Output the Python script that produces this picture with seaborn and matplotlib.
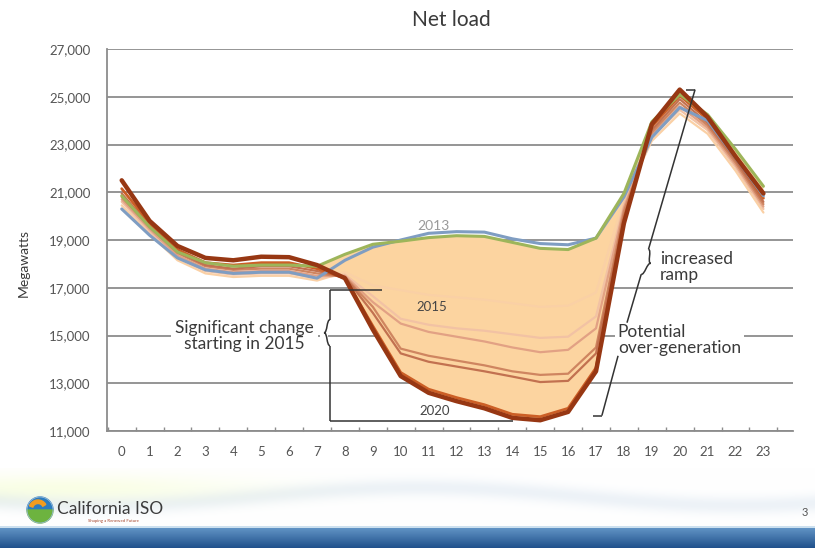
import numpy as np
import matplotlib
matplotlib.use("Agg")
import matplotlib.pyplot as plt
import matplotlib.transforms as mtransforms
from matplotlib.path import Path
from matplotlib.patches import Circle, Wedge, PathPatch
import seaborn as sns

# ---- data: hourly net load (MW) for a typical spring day ----
HOURS = list(range(24))
YEAR_LABELS = ["2012", "2013", "2014", "2015", "2016", "2017", "2018", "2019", "2020"]
Y_TICKS = [11000, 13000, 15000, 17000, 19000, 21000, 23000, 25000, 27000]

LOAD_2012 = [20300, 19200, 18250, 17750, 17600, 17650, 17650, 17400, 18150, 18700, 19000, 19280,
             19350, 19330, 19050, 18850, 18800, 19080, 20800, 23300, 24550, 24000, 22450, 20850]
LOAD_2013 = [20850, 19550, 18500, 18050, 17900, 17950, 17950, 17900, 18400, 18820, 18950, 19100,
             19180, 19150, 18900, 18650, 18600, 19080, 20950, 23950, 25100, 24250, 22800, 21250]
LOAD_2014 = [20450, 19250, 18150, 17600, 17450, 17500, 17500, 17300, 17650, 17100, 16900, 16700,
             16600, 16500, 16350, 16200, 16250, 16800, 20700, 23150, 24300, 23450, 21900, 20150]
LOAD_2015 = [20600, 19350, 18250, 17700, 17550, 17600, 17600, 17400, 17550, 16650, 15700, 15450,
             15300, 15200, 15050, 14900, 14950, 15800, 20500, 23300, 24450, 23600, 22050, 20300]
LOAD_2016 = [20700, 19450, 18350, 17800, 17650, 17700, 17700, 17500, 17500, 16400, 15500, 15150,
             14950, 14750, 14500, 14300, 14400, 15300, 20350, 23400, 24600, 23700, 22150, 20400]
LOAD_2017 = [20800, 19550, 18450, 17900, 17750, 17800, 17800, 17600, 17450, 16200, 14450, 14150,
             13950, 13750, 13500, 13350, 13400, 14500, 20200, 23500, 24750, 23800, 22250, 20500]
LOAD_2018 = [20950, 19600, 18500, 17950, 17800, 17900, 17900, 17700, 17450, 15950, 14250, 13900,
             13700, 13500, 13280, 13050, 13100, 14250, 20000, 23600, 24900, 23900, 22350, 20600]
LOAD_2019 = [21150, 19700, 18600, 18050, 17950, 18050, 18050, 17800, 17400, 15400, 13450, 12750,
             12400, 12100, 11700, 11600, 11950, 13650, 19850, 23750, 25050, 24050, 22450, 20750]
LOAD_2020 = [21500, 19800, 18750, 18250, 18150, 18300, 18280, 17950, 17400, 15250, 13300, 12600,
             12250, 11950, 11550, 11450, 11800, 13500, 19700, 23850, 25300, 24150, 22500, 20950]

SERIES = dict(zip(YEAR_LABELS, [LOAD_2012, LOAD_2013, LOAD_2014, LOAD_2015, LOAD_2016,
                                LOAD_2017, LOAD_2018, LOAD_2019, LOAD_2020]))

# ---- styling: colour, line width, z-order ----
STYLE = {
    "2012": ("#7f9dc2", 2.2, 4.2),
    "2013": ("#9db55a", 2.2, 4.3),
    "2014": ("#fad0a5", 1.6, 3.0),
    "2015": ("#f2c2a4", 1.6, 3.1),
    "2016": ("#e2a184", 1.6, 3.2),
    "2017": ("#cf8560", 1.6, 3.3),
    "2018": ("#c27150", 1.6, 3.4),
    "2019": ("#cc5f26", 2.0, 3.5),
    "2020": ("#973713", 3.2, 4.5),
}
FILL = "#fcd4a0"
GRID = "#8c8c8c"
TEXT = "#3a3a3a"
INK = "#333333"

sns.set_theme(style="white")
plt.rcParams["font.family"] = ["Lato", "DejaVu Sans"]

fig = plt.figure(figsize=(8.15, 5.48), dpi=100)
W, H = 815, 548
ax = fig.add_axes([107 / W, 1 - 431 / H, (793 - 107) / W, (431 - 49) / H])

# shaded band between the 2013 and 2020 curves
lo = np.array(SERIES["2020"])
hi = np.array(SERIES["2013"])
ax.fill_between(HOURS, lo, hi, where=lo <= hi, interpolate=True,
                color=FILL, lw=0, zorder=1.5)

for yr in YEAR_LABELS:
    col, lw, z = STYLE[yr]
    sns.lineplot(x=HOURS, y=SERIES[yr], ax=ax, color=col, lw=lw, zorder=z,
                 legend=False, solid_capstyle="round", solid_joinstyle="round")

ax.set_xlim(-0.527, 24.06)
ax.set_ylim(Y_TICKS[0], Y_TICKS[-1])
ax.set_yticks(Y_TICKS)
ax.set_yticklabels([f"{v:,}" for v in Y_TICKS])
ax.set_xticks(HOURS)
ax.set_xticklabels([str(h) for h in HOURS])
ax.set_xticks([h + 0.5 for h in HOURS[:-1]] + [-0.5, 23.5], minor=True)

ax.yaxis.grid(True, color=GRID, lw=1.3, zorder=0)
ax.set_axisbelow(True)
for s in ("top", "right"):
    ax.spines[s].set_visible(False)
for s in ("left", "bottom"):
    ax.spines[s].set_color(GRID)
    ax.spines[s].set_linewidth(1.3)

ax.tick_params(axis="y", which="major", length=4, width=1.2, color=GRID,
               direction="out", labelsize=9.5, labelcolor="#555555", pad=8)
ax.tick_params(axis="x", which="major", length=0, labelsize=9.5,
               labelcolor="#555555", pad=11)
ax.tick_params(axis="x", which="minor", length=3, width=1.0, color=GRID,
               direction="in", bottom=True)

ax.set_ylabel("Megawatts", fontsize=10, color=TEXT)
ax.yaxis.set_label_coords(-0.112, 0.44)

fig.text(451 / W, 1 - 20 / H, "Net load", ha="center", va="center",
         fontsize=15, color=TEXT)


def curly_brace(axis, x, y, height, width, angle=0.0, tip="left"):
    """Curly brace whose two ends sit on the point (x, y); sizes in pixels."""
    verts = [(0, 1), (-0.6, 1), (-0.4, 0), (-1, 0),
             (-0.4, 0), (-0.6, -1), (0, -1)]
    codes = [Path.MOVETO, Path.CURVE4, Path.CURVE4, Path.CURVE4,
             Path.CURVE4, Path.CURVE4, Path.CURVE4]
    sx = width if tip == "left" else -width
    px, py = axis.transData.transform((x, y))
    tr = (mtransforms.Affine2D().scale(sx, height / 2.0)
          .rotate_deg(angle).translate(px, py))
    patch = PathPatch(Path(verts, codes), transform=tr, fill=False,
                      ec=INK, lw=1.1, zorder=7)
    axis.add_artist(patch)


bracket = dict(color=INK, lw=1.1, zorder=6, solid_capstyle="butt")

# ---- annotations ----
ax.text(11.19, 19600, "2013", ha="center", va="center", fontsize=10,
        color="#9a9a9a", zorder=7)
ax.text(11.12, 16200, "2015", ha="center", va="center", fontsize=9.5,
        color="#454545", zorder=7)
ax.text(11.2, 11850, "2020", ha="center", va="center", fontsize=9.5,
        color="#454545", zorder=7)

# significant change bracket
ax.text(4.39, 15000, "Significant change\nstarting in 2015", ha="center",
        va="center", fontsize=12.5, color=TEXT, linespacing=1.0,
        multialignment="center",
        bbox=dict(facecolor="white", edgecolor="none", pad=3.0), zorder=5)
ax.text(7.25, 15117, " ", fontsize=16, bbox=dict(facecolor="white", edgecolor="none",
        pad=0.5), ha="center", va="center", zorder=5)
curly_brace(ax, 7.466, 15117, 26, 6, tip="left")
ax.plot([7.466, 9.33], [16916, 16916], **bracket)
ax.plot([7.466, 7.466], [16916, 15661], **bracket)
ax.plot([7.466, 7.466], [14573, 11406], **bracket)
ax.plot([7.466, 14.03], [11406, 11406], **bracket)

# increased ramp bracket
ax.plot([20.23, 20.55], [25300, 25300], **bracket)
ax.plot([20.55, 18.88], [25300, 18611], **bracket)
ax.plot([18.62, 18.11], [17565, 15536], **bracket)
curly_brace(ax, 18.75, 18088, 26, 6, angle=-16.3, tip="right")
ax.text(19.30, 17880, "increased\nramp", ha="left", va="center",
        fontsize=12.5, color=TEXT, linespacing=1.0, zorder=5)

# over-generation bracket
ax.text(17.78, 14820, "Potential\nover-generation", ha="left", va="center",
        fontsize=12.5, color=TEXT, linespacing=1.0,
        bbox=dict(facecolor="white", edgecolor="none", pad=2.0), zorder=5)
ax.plot([17.79, 17.21], [14150, 11645], **bracket)
ax.plot([16.89, 17.21], [11645, 11645], **bracket)

# ---- footer band with logo ----
foot = fig.add_axes([0, 0, 1, 80 / H])
foot.set_axis_off()
fh, fw = 80, W
rows = np.arange(fh)[:, None]
cols = np.arange(fw)[None, :]
img = np.ones((fh, fw, 3))
wave = 28 + 9 * np.sin(2 * np.pi * cols / 640 + 0.6)
tint = np.exp(-((rows - wave) / 9.0) ** 2)
img[..., 0] -= 0.07 * tint
img[..., 1] -= 0.05 * tint
img[..., 2] -= 0.03 * tint
warm = np.exp(-((rows - 20) / 14.0) ** 2) * np.exp(-((cols - 60) / 180.0) ** 2)
img[..., 2] -= 0.10 * warm
img[..., 0] -= 0.02 * warm
blue_top = np.array([0.40, 0.60, 0.79])
blue_bot = np.array([0.13, 0.32, 0.55])
start = 58
for r in range(start, fh):
    t = (r - start) / (fh - start - 1)
    img[r, :, :] = blue_top * (1 - t) + blue_bot * t
img[start:start + 2, :, :] = np.array([0.80, 0.88, 0.94])
img = np.clip(img, 0, 1)
foot.imshow(img, aspect="auto", extent=[0, fw, fh, 0], interpolation="bilinear")
foot.set_xlim(0, fw)
foot.set_ylim(fh, 0)

cx, cy, rad = 40, 42, 13
foot.add_patch(Wedge((cx, cy), rad, 180, 360, color="#2c7cc0", zorder=3))
foot.add_patch(Wedge((cx, cy), rad, 0, 180, color="#6db33f", zorder=3))
foot.add_patch(Wedge((cx - 2, cy - 1), 9, 200, 330, width=3.5, color="#f39c1f", zorder=4))
foot.add_patch(Circle((cx, cy), rad, fill=False, ec="#9bbcd8", lw=0.6, zorder=5))
foot.text(57, 41, "California ISO", fontsize=12.5, color="#3c3c3c",
          va="center", ha="left")
foot.text(88, 53, "Shaping a Renewed Future", fontsize=3.2, color="#a84a32",
          va="center", ha="left")
foot.text(805, 44, "3", fontsize=8, color="#555555", va="center", ha="center")

fig.savefig("out.png", dpi=100)
